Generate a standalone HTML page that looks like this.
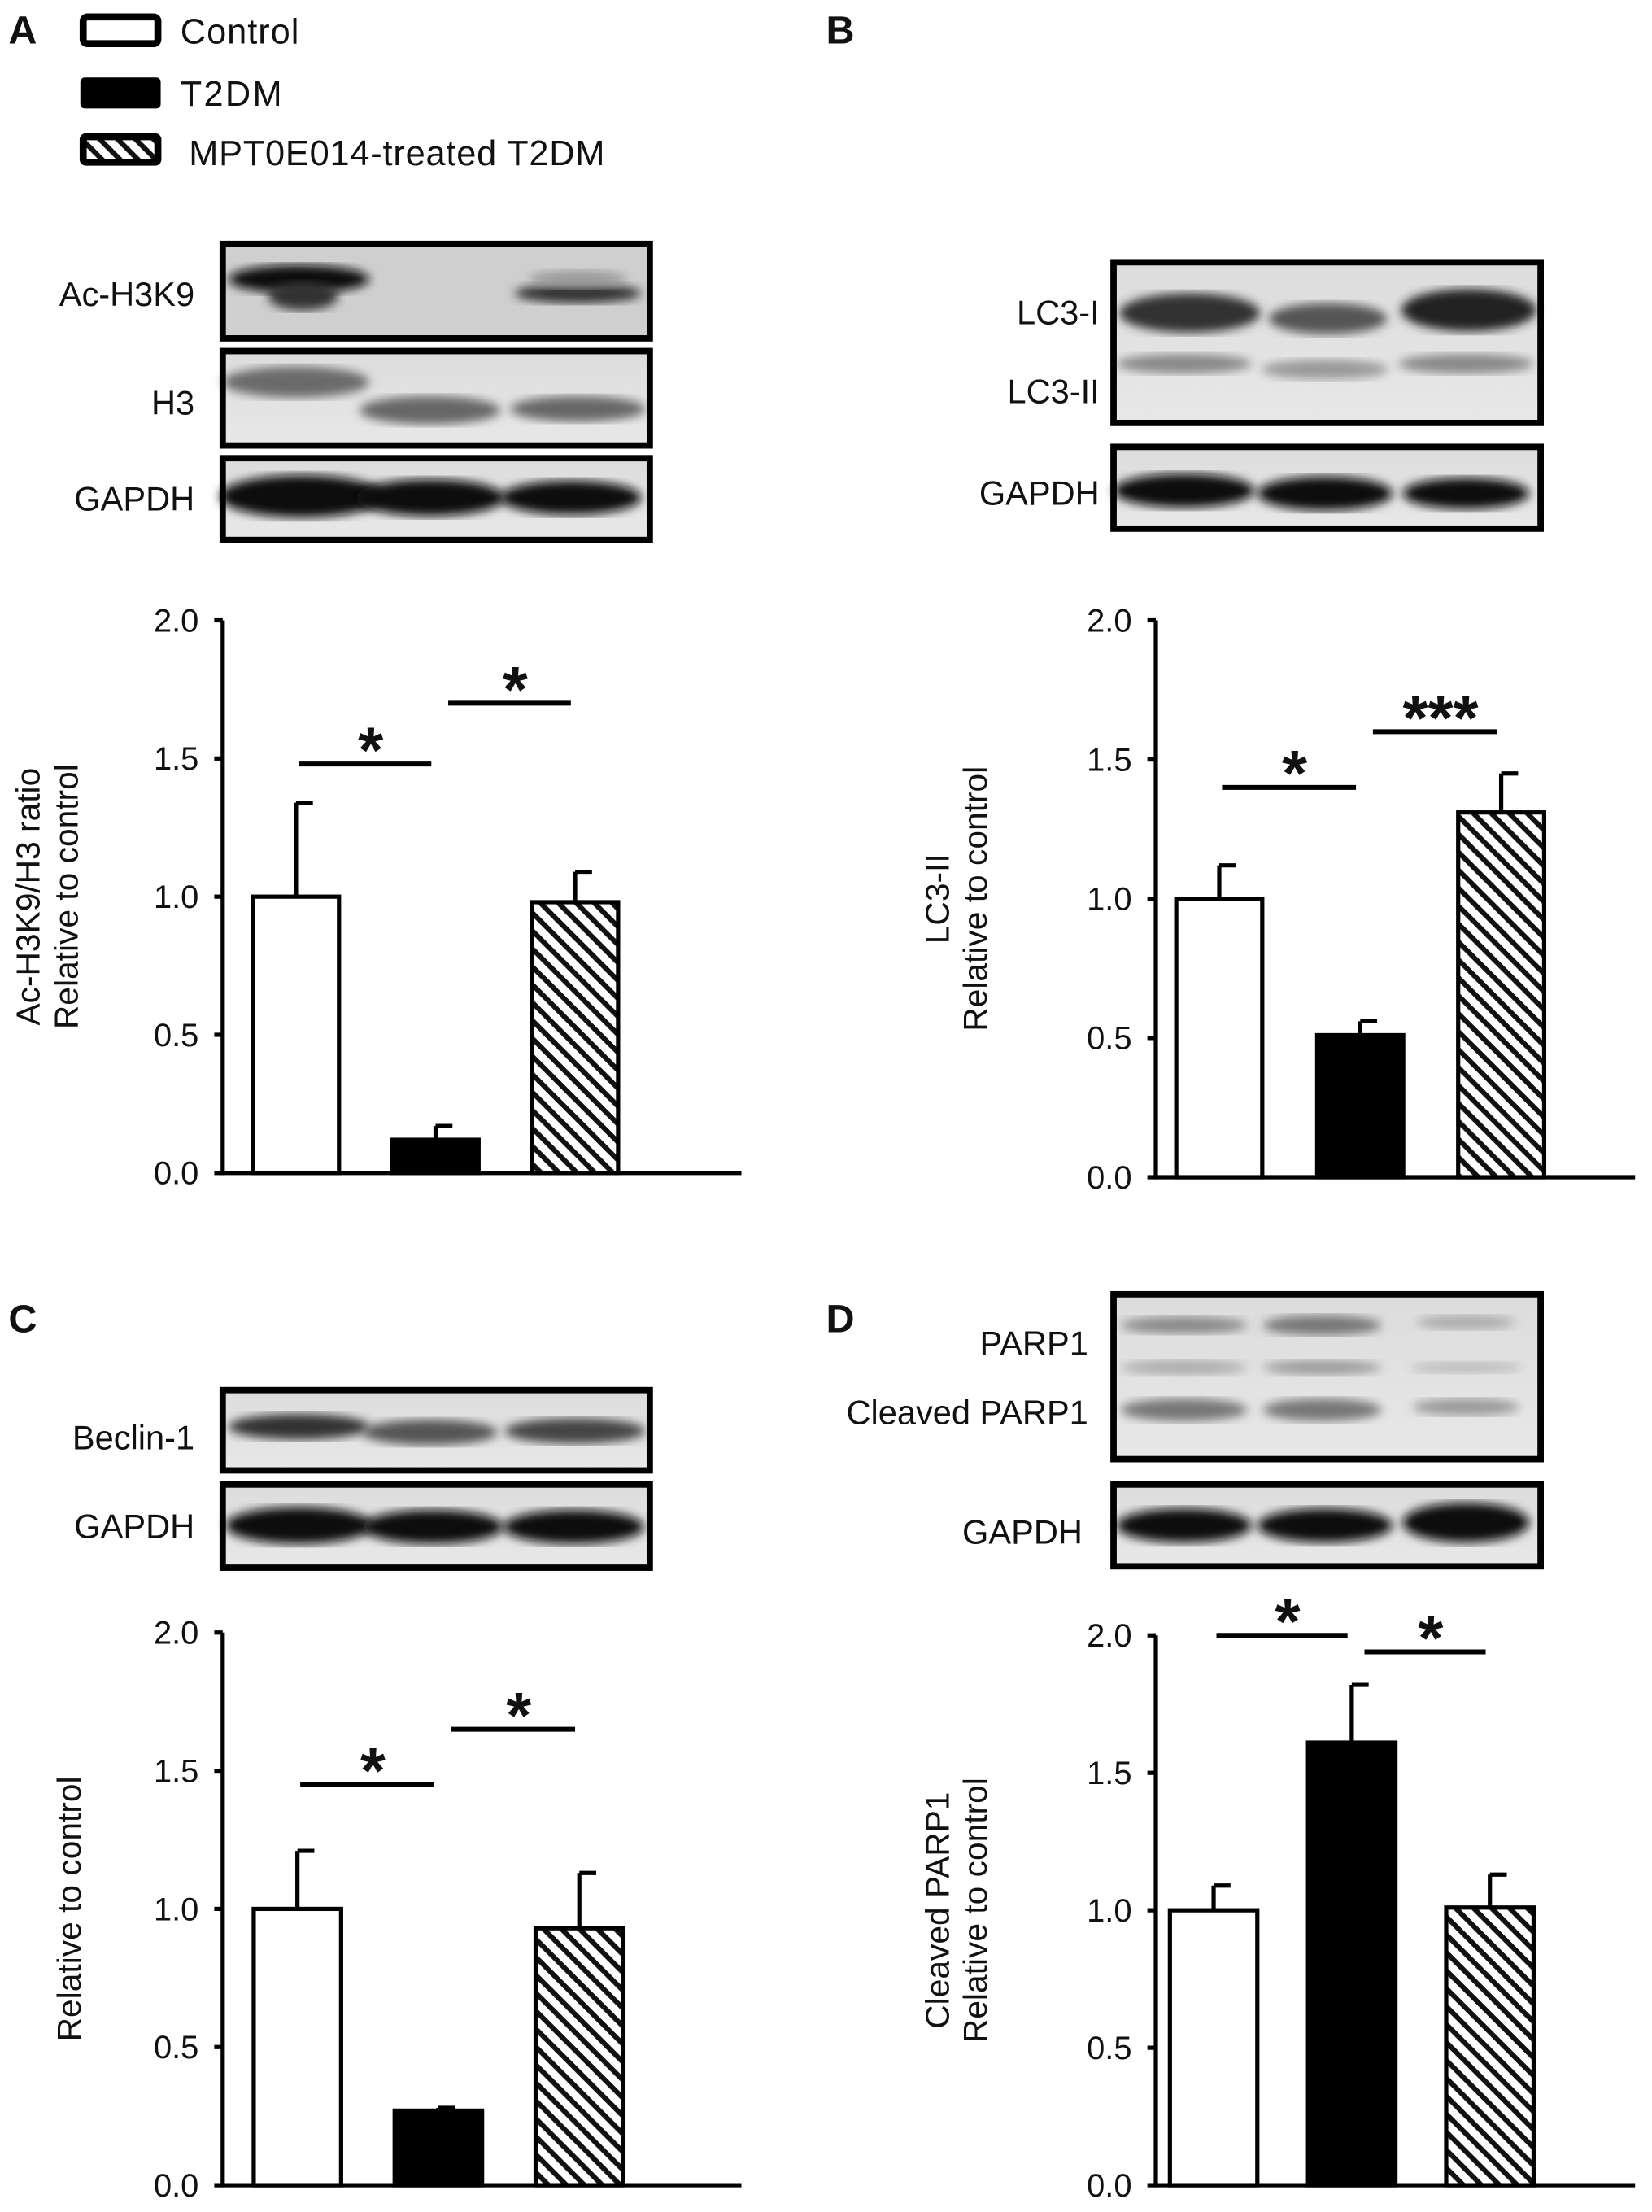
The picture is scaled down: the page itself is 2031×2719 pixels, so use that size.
<!DOCTYPE html>
<html><head><meta charset="utf-8">
<style>
html,body{margin:0;padding:0;background:#fff;}
svg{display:block;}
text{font-family:"Liberation Sans",sans-serif;fill:#111;}
</style></head>
<body>
<svg id="fig" xmlns="http://www.w3.org/2000/svg" width="2031" height="2719" viewBox="0 0 1172 1569" preserveAspectRatio="none">
<defs>
  <pattern id="hatch" patternUnits="userSpaceOnUse" width="9" height="9" patternTransform="rotate(45)">
    <rect width="9" height="9" fill="#fff"/>
    <rect x="0" y="0" width="9" height="3.6" fill="#111"/>
  </pattern>
  <filter id="blur3"><feGaussianBlur stdDeviation="3.5"/></filter>
  <linearGradient id="blotbg" x1="0" y1="0" x2="0" y2="1"><stop offset="0" stop-color="#dcdcdc"/><stop offset="1" stop-color="#e8e8e8"/></linearGradient>
</defs>

<text x="6" y="31" font-size="28" font-weight="bold">A</text>
<text x="586" y="31" font-size="28" font-weight="bold">B</text>
<text x="6" y="945" font-size="28" font-weight="bold">C</text>
<text x="586" y="945" font-size="28" font-weight="bold">D</text>

<g>
  <g>
    <rect x="59" y="12" width="53" height="19" rx="3" fill="#fff" stroke="#000" stroke-width="5"/>
    <text x="128" y="31" font-size="25" textLength="84">Control</text>
  </g>
  <g>
    <rect x="57" y="55" width="57" height="22" rx="3" fill="#000"/>
    <text x="128" y="75" font-size="25" textLength="72">T2DM</text>
  </g>
  <g>
    <rect x="59" y="97" width="53" height="18" rx="2" fill="url(#hatch)" stroke="#000" stroke-width="5"/>
    <text x="134" y="117" font-size="25" textLength="295">MPT0E014-treated T2DM</text>
  </g>
</g>

<g id="blots"></g>
<g id="charts"></g>
</svg>

<script>
// ---------- Chart data ----------
const categories = ["Control", "T2DM", "MPT0E014-treated T2DM"];
const tickLabels = ["0.0", "0.5", "1.0", "1.5", "2.0"];
const tickValues = [0, 0.5, 1.0, 1.5, 2.0];
const valuesA = [1.00, 0.12, 0.98];
const errorsA = [0.34, 0.05, 0.11];
const valuesB = [1.00, 0.51, 1.31];
const errorsB = [0.12, 0.05, 0.14];
const valuesC = [1.00, 0.27, 0.93];
const errorsC = [0.21, 0.01, 0.20];
const valuesD = [1.00, 1.61, 1.01];
const errorsD = [0.09, 0.21, 0.12];
const sigA = [["*", 0, 1, 1.48], ["*", 1, 2, 1.70]];
const sigB = [["*", 0, 1, 1.40], ["***", 1, 2, 1.60]];
const sigC = [["*", 0, 1, 1.45], ["*", 1, 2, 1.65]];
const sigD = [["*", 0, 1, 2.00], ["*", 1, 2, 1.94]];

const NS = "http://www.w3.org/2000/svg";
function mk(tag, attrs, parent, txt) {
  const e = document.createElementNS(NS, tag);
  for (const k in attrs) e.setAttribute(k, attrs[k]);
  if (txt !== undefined) e.textContent = txt;
  parent.appendChild(e);
  return e;
}

// ---------- Blots ----------
const blotG = document.getElementById('blots');
function blot(name, x, y, w, h, bands, bg) {
  const g = mk('g', {}, blotG);
  
  
  mk('rect', {x: x, y: y, width: w, height: h, fill: bg || 'url(#blotbg)'}, g);
  bands.forEach(b => {
    mk('ellipse', {cx: b[0], cy: b[1], rx: b[2], ry: b[3], fill: b[4], filter: 'url(#blur3)'}, g);
  });
  mk('rect', {x: x, y: y, width: w, height: h, fill: 'none', stroke: '#000', 'stroke-width': 4.5}, g);
}
function label(name, x, y, t) {
  const e = mk('text', {x: x, y: y, 'font-size': 24, 'text-anchor': 'end'}, blotG, t);
  
  
}
blot('blot-ac-h3k9', 158, 173, 303, 67, [[212,198,50,10,'#111'],[215,210,25,10,'#333'],[410,208,45,7,'#333'],[410,198,35,6,'#999']], '#cfcfcf');
label('blot-label-ac-h3k9', 138, 217, 'Ac-H3K9');
blot('blot-h3', 158, 249, 303, 67, [[210,271,52,11,'#6a6a6a'],[305,291,50,10,'#666'],[410,290,48,9,'#666']]);
label('blot-label-h3', 138, 294, 'H3');
blot('blot-gapdh-a', 158, 325, 303, 58, [[214,352,58,15,'#0a0a0a'],[305,353,53,13,'#0a0a0a'],[405,353,50,12,'#0a0a0a']]);
label('blot-label-gapdh-a', 138, 362, 'GAPDH');
blot('blot-lc3', 790, 186, 303, 114, [[844,222,50,14,'#333'],[942,226,42,11,'#555'],[1042,220,48,15,'#222'],[840,258,48,7,'#888'],[940,262,45,7,'#999'],[1040,258,48,7,'#888']]);
label('blot-label-lc3-i', 780, 230, 'LC3-I');
label('blot-label-lc3-ii', 780, 286, 'LC3-II');
blot('blot-gapdh-b', 790, 317, 303, 58, [[840,348,50,12,'#0a0a0a'],[940,350,48,12,'#0a0a0a'],[1040,350,45,11,'#0a0a0a']]);
label('blot-label-gapdh-b', 780, 358, 'GAPDH');
blot('blot-beclin-1', 158, 986, 303, 57, [[212,1012,50,9,'#333'],[305,1016,48,9,'#555'],[408,1015,50,9,'#444']]);
label('blot-label-beclin-1', 138, 1028, 'Beclin-1');
blot('blot-gapdh-c', 158, 1053, 303, 59, [[212,1082,52,13,'#0a0a0a'],[307,1083,50,12,'#0a0a0a'],[407,1083,50,12,'#0a0a0a']]);
label('blot-label-gapdh-c', 138, 1091, 'GAPDH');
blot('blot-parp1', 790, 918, 303, 117, [[840,940,45,6,'#888'],[938,940,42,7,'#777'],[1040,938,35,5,'#aaa'],[840,970,45,5,'#aaa'],[938,970,42,5,'#999'],[1040,970,40,4,'#bbb'],[840,1000,45,8,'#777'],[938,1000,42,8,'#777'],[1040,998,38,6,'#999']]);
label('blot-label-parp1', 772, 961, 'PARP1');
label('blot-label-cleaved-parp1', 772, 1010, 'Cleaved PARP1');
blot('blot-gapdh-d', 790, 1053, 303, 58, [[840,1082,48,12,'#0a0a0a'],[940,1082,48,12,'#0a0a0a'],[1040,1080,45,14,'#0a0a0a']]);
label('blot-label-gapdh-d', 768, 1095, 'GAPDH');

// ---------- Charts ----------
const chartsG = document.getElementById('charts');
const fills = ['#fff', '#000', 'url(#hatch)'];
function drawChart(cfg) {
  const g = mk('g', {}, chartsG);
  
  
  const yScale = v => cfg.y0 + (cfg.y2 - cfg.y0) * v / 2.0;
  const xCenter = i => cfg.xStart + cfg.xStep * i;
  const bw = cfg.barW;
  const ya = mk('line', {x1: cfg.ax, y1: yScale(2.0), x2: cfg.ax, y2: yScale(0) + 1.5, stroke: '#000', 'stroke-width': 3}, g);
  
  
  const xa = mk('line', {x1: cfg.ax, y1: yScale(0), x2: cfg.axEnd, y2: yScale(0), stroke: '#000', 'stroke-width': 3}, g);
  
  
  tickValues.forEach((v, i) => {
    const t = mk('line', {x1: cfg.ax - 6, y1: yScale(v), x2: cfg.ax, y2: yScale(v), stroke: '#000', 'stroke-width': 3}, g);
    
    
    const l = mk('text', {x: cfg.ax - 17, y: yScale(v) + 8, 'font-size': 23, 'text-anchor': 'end'}, g, tickLabels[i]);
    
    
  });
  const cy = (yScale(0) + yScale(2.0)) / 2 + cfg.titleDy;
  cfg.title.forEach((line, i) => {
    const tx = cfg.titleX + i * 27;
    const t = mk('text', {x: tx, y: cy, 'font-size': 23.5, 'text-anchor': 'middle', transform: 'rotate(-90 ' + tx + ' ' + cy + ')'}, g, line);
    
    
  });
  cfg.values.forEach((v, i) => {
    const xc = xCenter(i);
    const top = yScale(v + cfg.errors[i]);
    const e = mk('line', {x1: xc, y1: yScale(v), x2: xc, y2: top, stroke: '#000', 'stroke-width': 3}, g);
    
    
    const c = mk('line', {x1: xc, y1: top, x2: xc + 12, y2: top, stroke: '#000', 'stroke-width': 3}, g);
    
    
    const r = mk('rect', {x: xc - bw / 2, y: yScale(v), width: bw, height: yScale(0) - yScale(v), fill: fills[i], stroke: '#000', 'stroke-width': 3}, g);
    
    
  });
  cfg.sig.forEach(s => {
    const a = xCenter(s[1]) + (s[1] === 0 ? 2 : 9), b = xCenter(s[2]) - 3;
    const y = yScale(s[3]);
    const ln = mk('line', {x1: a, y1: y, x2: b, y2: y, stroke: '#000', 'stroke-width': 3.5}, g);
    
    
    const st = mk('text', {x: (a + b) / 2 + 4, y: y + 6, 'font-size': 46, 'font-weight': 'bold', 'text-anchor': 'middle'}, g, s[0]);
    
    
  });
}
drawChart({name: 'chart-a', ax: 158, axEnd: 526, y0: 832, y2: 440, xStart: 210, xStep: 99, barW: 61,
  values: valuesA, errors: errorsA, sig: sigA, title: ['Ac-H3K9/H3 ratio', 'Relative to control'], titleX: 28, titleDy: 0});
drawChart({name: 'chart-b', ax: 820, axEnd: 1160, y0: 835, y2: 440, xStart: 865, xStep: 100, barW: 61,
  values: valuesB, errors: errorsB, sig: sigB, title: ['LC3-II', 'Relative to control'], titleX: 673, titleDy: 0});
drawChart({name: 'chart-c', ax: 158, axEnd: 526, y0: 1550, y2: 1158, xStart: 211, xStep: 100, barW: 62,
  values: valuesC, errors: errorsC, sig: sigC, title: ['Relative to control'], titleX: 57, titleDy: 0});
drawChart({name: 'chart-d', ax: 820, axEnd: 1160, y0: 1550, y2: 1160, xStart: 861, xStep: 98, barW: 62,
  values: valuesD, errors: errorsD, sig: sigD, title: ['Cleaved PARP1', 'Relative to control'], titleX: 673, titleDy: 0});
</script>
</body></html>
